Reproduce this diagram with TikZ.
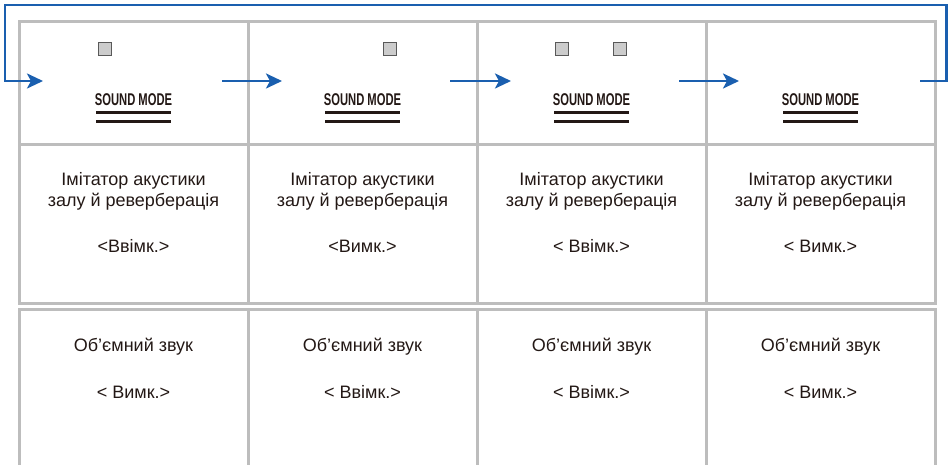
\documentclass[tikz,border=0pt]{standalone}
\usepackage{fontspec}
\setmainfont{Liberation Sans}
\newfontfamily\modefont[FakeStretch=0.66]{Liberation Sans}
\usepackage{tikz}
\usetikzlibrary{arrows.meta, positioning}
\definecolor{gridgray}{HTML}{BDBDBD}
\definecolor{loopblue}{HTML}{1A5FAF}
\definecolor{inkblack}{HTML}{231815}
\definecolor{keygray}{HTML}{CCCCCC}
\tikzset{
  cellbox/.style={
    rectangle, draw=gridgray, line width=3pt,
    minimum width=229pt, minimum height=#1,
    inner sep=0pt
  },
  celltext/.style={
    align=center, text=inkblack,
    font=\fontsize{18pt}{21.5pt}\selectfont
  },
  modelabel/.style={
    text=inkblack, inner sep=0pt,
    font=\modefont\bfseries\fontsize{17pt}{17pt}\selectfont
  },
  keyled/.style={
    rectangle, draw=black!65, fill=keygray, line width=1pt,
    minimum size=13pt, inner sep=0pt
  },
  modebar/.style={draw=inkblack, line width=3pt},
  flowarrow/.style={
    draw=loopblue, line width=2.7pt,
    -{Stealth[length=16pt, width=15pt, inset=4pt]}
  },
}

\begin{document}
\begin{tikzpicture}[x=1pt, y=-1pt]
  \useasboundingbox (0,0) rectangle (949,465);

  % grid
  \node[cellbox=123pt] (top1) at (133.5,83.5) {};
  \node[cellbox=123pt] (top2) at (362.5,83.5) {};
  \node[cellbox=123pt] (top3) at (591.5,83.5) {};
  \node[cellbox=123pt] (top4) at (820.5,83.5) {};
  \node[cellbox=158pt] (mid1) at (133.5,224) {};
  \node[cellbox=158pt] (mid2) at (362.5,224) {};
  \node[cellbox=158pt] (mid3) at (591.5,224) {};
  \node[cellbox=158pt] (mid4) at (820.5,224) {};
  \node[cellbox=171pt] (low1) at (133.5,394.5) {};
  \node[cellbox=171pt] (low2) at (362.5,394.5) {};
  \node[cellbox=171pt] (low3) at (591.5,394.5) {};
  \node[cellbox=171pt] (low4) at (820.5,394.5) {};

  % indicators
  \node[keyled] (led1) at (105,49.5) {};
  \node[keyled] (led2) at (390,49.5) {};
  \node[keyled] (led3a) at (562,49.5) {};
  \node[keyled] (led3b) at (620,49.5) {};

  % SOUND MODE labels
  \foreach \cx/\n in {133.5/1, 362.5/2, 591.5/3, 820.5/4}{
    \node[modelabel] (mode\n) at (\cx,99.5) {SOUND MODE};
    \draw[modebar] (\cx-37.5,112.5) -- (\cx+37.5,112.5);
    \draw[modebar] (\cx-37.5,121.5) -- (\cx+37.5,121.5);
  }

  % texts
  \node[celltext] (hall1) at (133.5,191.5) {Імітатор акустики\\залу й реверберація};
  \node[celltext] (hall2) at (362.5,191.5) {Імітатор акустики\\залу й реверберація};
  \node[celltext] (hall3) at (591.5,191.5) {Імітатор акустики\\залу й реверберація};
  \node[celltext] (hall4) at (820.5,191.5) {Імітатор акустики\\залу й реверберація};
  \node[celltext] (hallst1) at (133.5,246) {<Ввімк.>};
  \node[celltext] (hallst2) at (362.5,246) {<Вимк.>};
  \node[celltext] (hallst3) at (591.5,246) {< Ввімк.>};
  \node[celltext] (hallst4) at (820.5,246) {< Вимк.>};
  \node[celltext] (surr1) at (133.5,347) {Об’ємний звук};
  \node[celltext] (surr2) at (362.5,347) {Об’ємний звук};
  \node[celltext] (surr3) at (591.5,347) {Об’ємний звук};
  \node[celltext] (surr4) at (820.5,347) {Об’ємний звук};
  \node[celltext] (surrst1) at (133.5,392) {< Вимк.>};
  \node[celltext] (surrst2) at (362.5,392) {< Ввімк.>};
  \node[celltext] (surrst3) at (591.5,392) {< Ввімк.>};
  \node[celltext] (surrst4) at (820.5,392) {< Вимк.>};

  % arrows
  \coordinate (in1) at (43,81);
  \coordinate (out1) at (222,81);
  \coordinate (in2) at (282,81);
  \coordinate (out2) at (450,81);
  \coordinate (in3) at (511,81);
  \coordinate (out3) at (679,81);
  \coordinate (in4) at (739,81);
  \coordinate (out4) at (920,81);
  \coordinate (loopE) at (946.5,5);
  \coordinate (loopW) at (5,5);
  \draw[flowarrow] (out1) -- (in2);
  \draw[flowarrow] (out2) -- (in3);
  \draw[flowarrow] (out3) -- (in4);
  \draw[flowarrow] (out4) -| (loopE) -- (loopW) |- (in1);
\end{tikzpicture}
\end{document}
